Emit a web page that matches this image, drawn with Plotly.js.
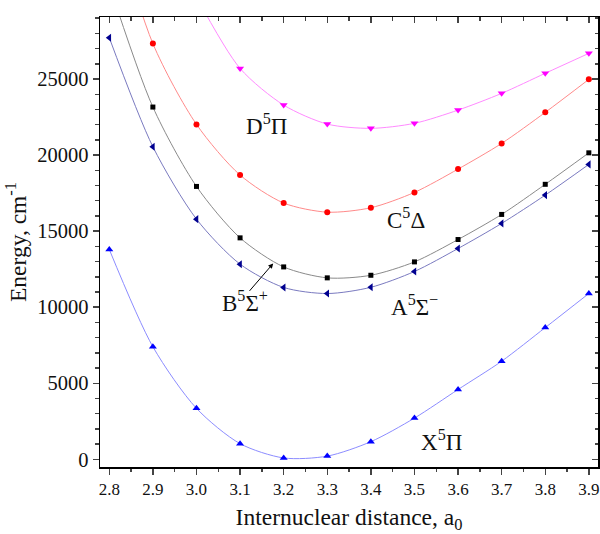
<!DOCTYPE html>
<html>
<head>
<meta charset="utf-8">
<script src="https://cdn.plot.ly/plotly-3.0.1.min.js"></script>
<style>html,body{margin:0;padding:0;background:#fff;}</style>
</head>
<body>
<div id="chart" style="width:600px;height:534px;"></div>
<script>
const distance = [2.8, 2.9, 3.0, 3.1, 3.2, 3.3, 3.4, 3.5, 3.6, 3.7, 3.8, 3.9];
const distanceD = [3.0, 3.1, 3.2, 3.3, 3.4, 3.5, 3.6, 3.7, 3.8, 3.9];
const energyX = [13800, 7400, 3350, 1030, 90, 210, 1160, 2710, 4590, 6450, 8660, 10900];
const energyA = [27720, 20550, 15790, 12830, 11300, 10900, 11310, 12350, 13860, 15510, 17370, 19390];
const energyB = [31200, 23160, 17940, 14560, 12650, 11930, 12100, 12980, 14450, 16100, 18080, 20150];
const energyC = [36500, 27330, 22020, 18690, 16850, 16250, 16540, 17550, 19080, 20770, 22810, 24980];
const energyD = [30400, 25700, 23290, 22040, 21760, 22090, 22960, 24060, 25380, 26690];
const stateLabels = ['D<sup>5</sup>Π', 'C<sup>5</sup>Δ', 'B<sup>5</sup>Σ<sup>+</sup>', 'A<sup>5</sup>Σ<sup>−</sup>', 'X<sup>5</sup>Π'];
const labelX = [3.161, 3.4805, 3.111, 3.501, 3.563];
const labelY = [22000, 15850, 10400, 10130, 1250];

const font = '"Liberation Serif", "Times New Roman", serif';
function tr(x, y, color, lineColor, symbol, size) {
  return {x: x, y: y, type: 'scatter', mode: 'lines+markers',
    line: {color: lineColor, width: 1, shape: 'spline', smoothing: 0.8},
    marker: {color: color, symbol: symbol, size: size},
    hoverinfo: 'skip', cliponaxis: true};
}
const data = [
  tr(distance, energyX, '#0000ff', '#8c8cff', 'triangle-up', 7),
  tr(distance, energyA, '#000090', '#7a7ac0', 'triangle-left', 7),
  tr(distance, energyB, '#000000', '#8a8a8a', 'square', 5),
  tr(distance, energyC, '#ff0000', '#ff8a8a', 'circle', 6),
  tr(distanceD, energyD, '#ff00ff', '#ff8aff', 'triangle-down', 7)
];
const xr = [2.7787, 3.921], yr = [-505, 29080];
const annotations = stateLabels.map((t, i) => ({
  x: labelX[i], y: labelY[i], xref: 'x', yref: 'y', text: t, showarrow: false,
  xanchor: 'center', yanchor: 'middle', font: {family: font, size: 23, color: '#111'}
}));
annotations.push({x: 3.176, y: 12880, xref: 'x', yref: 'y', text: '', showarrow: true,
  ax: -25, ay: 29, arrowhead: 2, arrowsize: 1, arrowwidth: 1, arrowcolor: '#000'});
const layout = {
  width: 600, height: 534,
  margin: {l: 100, r: 2, t: 17, b: 67},
  paper_bgcolor: '#fff', plot_bgcolor: '#fff',
  font: {family: font, size: 18, color: '#111'},
  showlegend: false,
  xaxis: {range: xr, tick0: 2.8, dtick: 0.1, tickformat: '.1f', ticks: 'outside', ticklen: 6, tickwidth: 1.5,
    minor: {dtick: 0.05, tick0: 2.8, ticks: 'outside', ticklen: 3.5, tickwidth: 1.5},
    showline: true, linewidth: 1.5, linecolor: '#000', showgrid: false, zeroline: false,
    tickfont: {family: font, size: 17, color: '#111'},
    title: {text: 'Internuclear distance, a<sub>0</sub>', font: {family: font, size: 23.5, color: '#111'}, standoff: 11}},
  yaxis: {range: yr, tick0: 0, dtick: 5000, tickformat: 'd', ticks: 'outside', ticklen: 6, tickwidth: 1.5,
    minor: {dtick: 1000, tick0: 0, ticks: 'outside', ticklen: 3.5, tickwidth: 1.5},
    showline: true, linewidth: 1.5, linecolor: '#000', showgrid: false, zeroline: false,
    tickfont: {family: font, size: 20.5, color: '#111'},
    title: {text: 'Energy, cm<sup>-1</sup>', font: {family: font, size: 23.5, color: '#111'}, standoff: 4}},
  xaxis2: {overlaying: 'x', side: 'top', anchor: 'y', range: xr, tick0: 2.8, dtick: 0.1, ticks: 'inside', ticklen: 6, tickwidth: 1.5,
    minor: {dtick: 0.05, tick0: 2.8, ticks: 'inside', ticklen: 3.5, tickwidth: 1.5},
    showticklabels: false, showline: true, linewidth: 1.5, linecolor: '#000', showgrid: false, zeroline: false},
  yaxis2: {overlaying: 'y', side: 'right', anchor: 'x', range: yr, tick0: 0, dtick: 5000, ticks: 'inside', ticklen: 6, tickwidth: 1.5,
    minor: {dtick: 1000, tick0: 0, ticks: 'inside', ticklen: 3.5, tickwidth: 1.5},
    showticklabels: false, showline: true, linewidth: 1.5, linecolor: '#000', showgrid: false, zeroline: false},
  annotations: annotations
};
data.push({x: distance, y: energyX, xaxis: 'x2', yaxis: 'y2', type: 'scatter', mode: 'none', hoverinfo: 'skip', showlegend: false});
Plotly.newPlot('chart', data, layout, {displayModeBar: false, staticPlot: true});
</script>
</body>
</html>
